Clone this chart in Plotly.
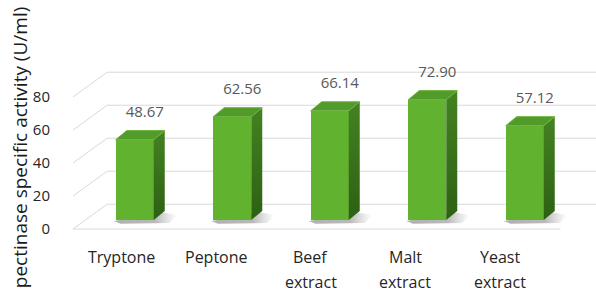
import plotly.graph_objects as go

categories = ["Tryptone", "Peptone", "Beef extract", "Malt extract", "Yeast extract"]
activity = [48.67, 62.56, 66.14, 72.90, 57.12]
value_labels = ["48.67", "62.56", "66.14", "72.90", "57.12"]
y_ticks = [0, 20, 40, 60, 80]
y_title = "pectinase specific activity (U/ml)"

# oblique-projection geometry, in axis units
WALL_DX, WALL_DY = 0.35, 15.0
BAR_OFF_X, BAR_OFF_Y = 0.133, 5.45
BAR_W = 0.39
SIDE_DX, SIDE_DY = 0.113, 5.5
X_MIN, X_MAX = -0.5, 4.864
Y_MIN, Y_MAX = -4.24, 102.4
FONT = "Open Sans"

fig = go.Figure()
idx = list(range(len(categories)))

# back-wall gridlines with their left-wall diagonals (base axes, drawn underneath)
for t in y_ticks:
    fig.add_trace(go.Scatter(
        x=[X_MIN, X_MIN + WALL_DX, X_MAX], y=[t, t + WALL_DY, t + WALL_DY],
        mode="lines", line=dict(color="#D9D9D9", width=1),
        hoverinfo="skip", showlegend=False))
# floor front edge
fig.add_trace(go.Scatter(
    x=[X_MIN, len(categories) - 0.5], y=[0, 0], mode="lines",
    line=dict(color="#D9D9D9", width=1), hoverinfo="skip", showlegend=False))

# soft shadows on the floor
for i in idx:
    xl = i + BAR_OFF_X - BAR_W / 2
    xr = xl + BAR_W + SIDE_DX
    b = BAR_OFF_Y
    fig.add_trace(go.Scatter(
        x=[xl - 0.02, xr - 0.02, xr + 0.13, xr + 0.05, xl + 0.05, xl - 0.02],
        y=[b - 0.6, b + SIDE_DY - 1, b + 3.0, b - 1.8, b - 2.2, b - 0.6],
        fill="toself", mode="none",
        fillgradient=dict(type="horizontal",
                          colorscale=[[0, "rgba(80,80,80,0.45)"], [0.65, "rgba(80,80,80,0.4)"],
                                      [1, "rgba(120,120,120,0)"]]),
        hoverinfo="skip", showlegend=False))

# front faces (overlay axes so they sit above the grid)
fig.add_trace(go.Bar(
    x=[i + BAR_OFF_X for i in idx], y=activity,
    base=BAR_OFF_Y, width=BAR_W,
    marker=dict(color="#60B22F", line=dict(width=0)),
    xaxis="x2", yaxis="y2", hoverinfo="skip", showlegend=False))

# side and top faces
for i, v in zip(idx, activity):
    xl = i + BAR_OFF_X - BAR_W / 2
    xr = xl + BAR_W
    b = BAR_OFF_Y
    top = b + v
    fig.add_trace(go.Scatter(
        x=[xr, xr + SIDE_DX, xr + SIDE_DX, xr, xr],
        y=[b, b + SIDE_DY, top + SIDE_DY, top, b],
        fill="toself", mode="none",
        fillgradient=dict(type="vertical",
                          colorscale=[[0, "#2D6014"], [1, "#448221"]]),
        xaxis="x2", yaxis="y2", hoverinfo="skip", showlegend=False))
    fig.add_trace(go.Scatter(
        x=[xl, xr, xr + SIDE_DX, xl + SIDE_DX, xl],
        y=[top, top, top + SIDE_DY, top + SIDE_DY, top],
        fill="toself", mode="lines", line=dict(color="#6AB43C", width=1),
        fillcolor="#529A2A", xaxis="x2", yaxis="y2",
        hoverinfo="skip", showlegend=False))

# value labels
fig.add_trace(go.Scatter(
    x=[i + 0.236 for i in idx], y=[v + 21.5 for v in activity],
    text=value_labels, mode="text", textposition="middle center",
    textfont=dict(family=FONT, size=15, color="#595959"),
    xaxis="x2", yaxis="y2", hoverinfo="skip", showlegend=False, cliponaxis=False))

# category labels (two rows)
for i, name in enumerate(categories):
    words = name.split(" ", 1)
    fig.add_annotation(x=i, y=-0.119, xref="x", yref="paper", xshift=-3 * i,
                       text=words[0], showarrow=False, yanchor="middle",
                       font=dict(family=FONT, size=16, color="#262626"))
    if len(words) > 1:
        fig.add_annotation(x=i, y=-0.261, xref="x", yref="paper", xshift=-3 * i,
                           text=words[1], showarrow=False, yanchor="middle",
                           font=dict(family=FONT, size=16, color="#262626"))

fig.add_annotation(x=-0.101, y=0.5, xref="paper", yref="paper", text=y_title,
                   textangle=-90, showarrow=False, xanchor="center", yanchor="middle",
                   font=dict(family=FONT, size=19, color="#1A1A1A"))

hidden = dict(range=[X_MIN, X_MAX], showgrid=False, zeroline=False,
              showticklabels=False, showline=False, fixedrange=True)
fig.update_layout(
    width=596, height=294,
    margin=dict(l=73, r=0, t=60, b=58),
    paper_bgcolor="white", plot_bgcolor="white",
    bargap=0,
    xaxis=hidden,
    xaxis2=dict(hidden, overlaying="x"),
    yaxis=dict(range=[Y_MIN, Y_MAX], tickvals=y_ticks, showgrid=False, zeroline=False,
               showline=False, ticks="outside", ticklen=19, tickcolor="rgba(0,0,0,0)",
               tickfont=dict(family=FONT, size=15, color="#262626"), fixedrange=True),
    yaxis2=dict(range=[Y_MIN, Y_MAX], overlaying="y", showgrid=False, zeroline=False,
                showticklabels=False, showline=False, fixedrange=True),
)

fig.write_html("out.html", config={"displayModeBar": False},
               post_script="document.body.style.margin='0';document.body.style.overflow='hidden';")
